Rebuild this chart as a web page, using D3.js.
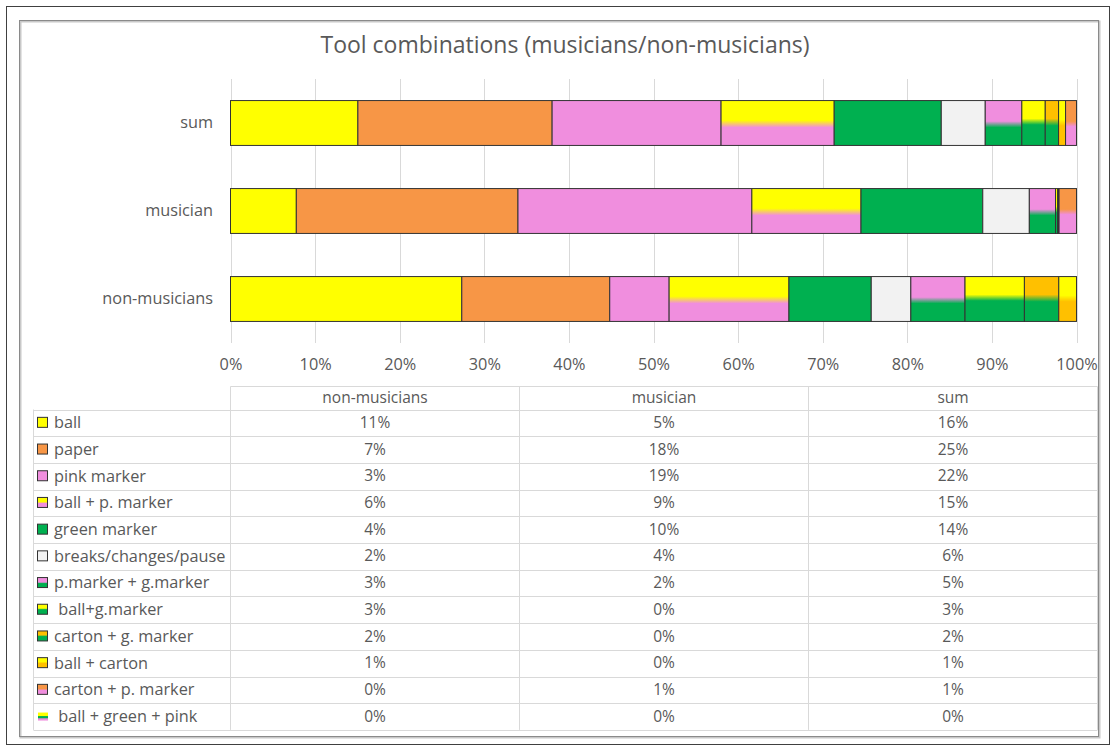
<!DOCTYPE html>
<html>
<head>
<meta charset="utf-8">
<script src="https://cdn.jsdelivr.net/npm/d3@7"></script>
<style>
  html, body { margin: 0; padding: 0; background: #fff; }
  svg { display: block; font-family: "Open Sans", Lato, sans-serif; }
</style>
</head>
<body>
<svg id="chart" width="1115" height="747"></svg>
<script>
// Bar rows, top to bottom
const categories = ["sum", "musician", "non-musicians"];
// Table columns, left to right
const tableColumns = ["non-musicians", "musician", "sum"];

const tools = [
  "ball", "paper", "pink marker", "ball + p. marker", "green marker",
  "breaks/changes/pause", "p.marker + g.marker", " ball+g.marker",
  "carton + g. marker", "ball + carton", "carton + p. marker", " ball + green + pink"
];

// Share of all recorded tool uses (%), one entry per tool
const nonMusicianValues = [11.1, 7.1, 2.85, 5.75, 3.95, 1.9, 2.6, 2.85, 1.65, 0.85, 0, 0];
const musicianValues    = [5.33, 17.95, 18.94, 8.84, 9.86, 3.77, 2.12, 0.17, 0.07, 0.05, 1.41, 0];
const sumValues         = [16.43, 25.05, 21.79, 14.59, 13.81, 5.67, 4.72, 3.02, 1.72, 0.9, 1.41, 0];

const tickValues = [0, 0.1, 0.2, 0.3, 0.4, 0.5, 0.6, 0.7, 0.8, 0.9, 1.0];

// Fill colours: each tool is drawn as a top colour fading into a bottom colour
const YEL = "#FFFF00", ORA = "#F79646", PNK = "#F08EDE", GRN = "#00B050", GRY = "#F2F2F2", CRT = "#FFC000";
const topColor    = [YEL, ORA, PNK, YEL, GRN, GRY, PNK, YEL, CRT, YEL, ORA, YEL];
const bottomColor = [YEL, ORA, PNK, PNK, GRN, GRY, GRN, GRN, GRN, CRT, PNK, PNK];
const blendStops  = [
  [0.5, 0.5], [0.5, 0.5], [0.5, 0.5], [0.44, 0.6], [0.5, 0.5], [0.5, 0.5],
  [0.46, 0.6], [0.4, 0.54], [0.4, 0.56], [0.42, 0.56], [0.46, 0.58], [0.4, 0.6]
];

const valuesByCategory = {
  "sum": sumValues,
  "musician": musicianValues,
  "non-musicians": nonMusicianValues
};

const svg = d3.select("#chart");
const textColor = "#595959";
const labelSize = "16.3px";
const cellSize = "15.5px";

// Frames
svg.append("rect").attr("x", 6.5).attr("y", 6.5).attr("width", 1103).attr("height", 738)
  .attr("fill", "#fff").attr("stroke", "#404040").attr("stroke-width", 1);
svg.append("rect").attr("x", 20.5).attr("y", 21.5).attr("width", 1079).attr("height", 716)
  .attr("fill", "none").attr("stroke", "#c8c8c8").attr("stroke-width", 2);
svg.append("rect").attr("x", 19.5).attr("y", 20.5).attr("width", 1079).attr("height", 716)
  .attr("fill", "none").attr("stroke", "#8a8a8a").attr("stroke-width", 1);

// Gradients
const defs = svg.append("defs");
tools.forEach((t, i) => {
  const g = defs.append("linearGradient").attr("id", "fill" + i)
    .attr("x1", 0).attr("y1", 0).attr("x2", 0).attr("y2", 1);
  if (i === 11) {
    // three-colour stripes
    g.append("stop").attr("offset", 0).attr("stop-color", YEL);
    g.append("stop").attr("offset", 0.38).attr("stop-color", YEL);
    g.append("stop").attr("offset", 0.5).attr("stop-color", GRN);
    g.append("stop").attr("offset", 0.66).attr("stop-color", GRN);
    g.append("stop").attr("offset", 0.78).attr("stop-color", PNK);
    g.append("stop").attr("offset", 1).attr("stop-color", PNK);
  } else {
    g.append("stop").attr("offset", 0).attr("stop-color", topColor[i]);
    g.append("stop").attr("offset", blendStops[i][0]).attr("stop-color", topColor[i]);
    g.append("stop").attr("offset", blendStops[i][1]).attr("stop-color", bottomColor[i]);
    g.append("stop").attr("offset", 1).attr("stop-color", bottomColor[i]);
  }
});

// Title
svg.append("text").attr("x", 565).attr("y", 47).attr("text-anchor", "middle")
  .attr("dominant-baseline", "middle").attr("fill", textColor)
  .style("font-size", "23px").text("Tool combinations (musicians/non-musicians)");

// Scales
const x = d3.scaleLinear().domain([0, 1]).range([230.5, 1076.5]);
const y = d3.scaleBand().domain(categories).range([79, 343]).paddingInner(0.49).paddingOuter(0.245);

// Gridlines
svg.append("g").selectAll("line").data(tickValues).join("line")
  .attr("x1", d => Math.round(x(d)) + 0.5).attr("x2", d => Math.round(x(d)) + 0.5)
  .attr("y1", 79).attr("y2", 343)
  .attr("stroke", "#d9d9d9").attr("stroke-width", 1);

// Axis tick labels
const xAxis = d3.axisBottom(x).tickValues(tickValues).tickFormat(d3.format(".0%")).tickSize(0).tickPadding(0);
const axisG = svg.append("g").attr("transform", "translate(0,358)").call(xAxis);
axisG.select(".domain").remove();
axisG.selectAll("text").attr("fill", textColor).style("font-size", labelSize)
  .style("font-family", "'Open Sans', Lato, sans-serif");

// Category labels
const yAxis = d3.axisLeft(y).tickSize(0).tickPadding(0);
const yG = svg.append("g").attr("transform", "translate(213,0)").call(yAxis);
yG.select(".domain").remove();
yG.selectAll("text").attr("fill", textColor).style("font-size", labelSize)
  .style("font-family", "'Open Sans', Lato, sans-serif");

// Stacked 100% bars
const rows = categories.map(c => {
  const o = { category: c };
  tools.forEach((t, i) => { o[t] = valuesByCategory[c][i]; });
  return o;
});
const stack = d3.stack().keys(tools).offset(d3.stackOffsetExpand);
const series = stack(rows);

const barG = svg.append("g");
series.forEach((s, i) => {
  barG.append("g").selectAll("rect")
    .data(s.filter(d => d[1] - d[0] > 0))
    .join("rect")
    .attr("x", d => x(d[0]))
    .attr("y", d => y(d.data.category))
    .attr("width", d => x(d[1]) - x(d[0]))
    .attr("height", y.bandwidth())
    .attr("fill", `url(#fill${i})`)
    .attr("stroke", "#333")
    .attr("stroke-width", 1);
});

// Data table
const tableLeft = 33.5;
const colEdges = [230.5, 519.5, 808.5, 1097.5];
const headerTop = 386.5;
const rowTop = 409.5;
const rowH = 26.7;
const tableBottom = rowTop + rowH * tools.length;
const lineColor = "#d9d9d9";
const tbl = svg.append("g");

// horizontal lines
tbl.append("line").attr("x1", colEdges[0]).attr("x2", colEdges[3])
  .attr("y1", headerTop).attr("y2", headerTop).attr("stroke", lineColor);
d3.range(tools.length + 1).forEach(k => {
  const yy = Math.round(rowTop + k * rowH) + 0.5;
  tbl.append("line").attr("x1", tableLeft).attr("x2", colEdges[3])
    .attr("y1", yy).attr("y2", yy).attr("stroke", lineColor);
});
// vertical lines
tbl.append("line").attr("x1", tableLeft).attr("x2", tableLeft)
  .attr("y1", rowTop).attr("y2", tableBottom).attr("stroke", lineColor);
colEdges.forEach(cx => {
  tbl.append("line").attr("x1", cx).attr("x2", cx)
    .attr("y1", headerTop).attr("y2", tableBottom).attr("stroke", lineColor);
});

// header text
tableColumns.forEach((c, j) => {
  tbl.append("text").attr("x", (colEdges[j] + colEdges[j + 1]) / 2).attr("y", (headerTop + rowTop) / 2 + 1)
    .attr("text-anchor", "middle").attr("dominant-baseline", "middle")
    .attr("fill", textColor).style("font-size", cellSize).text(c);
});

// rows
tools.forEach((t, i) => {
  const cy = rowTop + (i + 0.5) * rowH;
  if (i === 11) {
    tbl.append("rect").attr("x", 38).attr("y", cy - 4).attr("width", 10).attr("height", 8)
      .attr("fill", `url(#fill${i})`);
  } else {
    tbl.append("rect").attr("x", 37.5).attr("y", cy - 5.5).attr("width", 10).attr("height", 10)
      .attr("fill", `url(#fill${i})`).attr("stroke", "#333").attr("stroke-width", 1);
  }
  tbl.append("text").attr("x", 54).attr("y", cy + 1).attr("dominant-baseline", "middle")
    .attr("fill", textColor).style("font-size", labelSize).style("white-space", "pre")
    .attr("xml:space", "preserve").text(t);
  tableColumns.forEach((c, j) => {
    tbl.append("text").attr("x", (colEdges[j] + colEdges[j + 1]) / 2).attr("y", cy + 1)
      .attr("text-anchor", "middle").attr("dominant-baseline", "middle")
      .attr("fill", textColor).style("font-size", cellSize)
      .text(Math.round(valuesByCategory[c][i]) + "%");
  });
});
</script>
</body>
</html>
